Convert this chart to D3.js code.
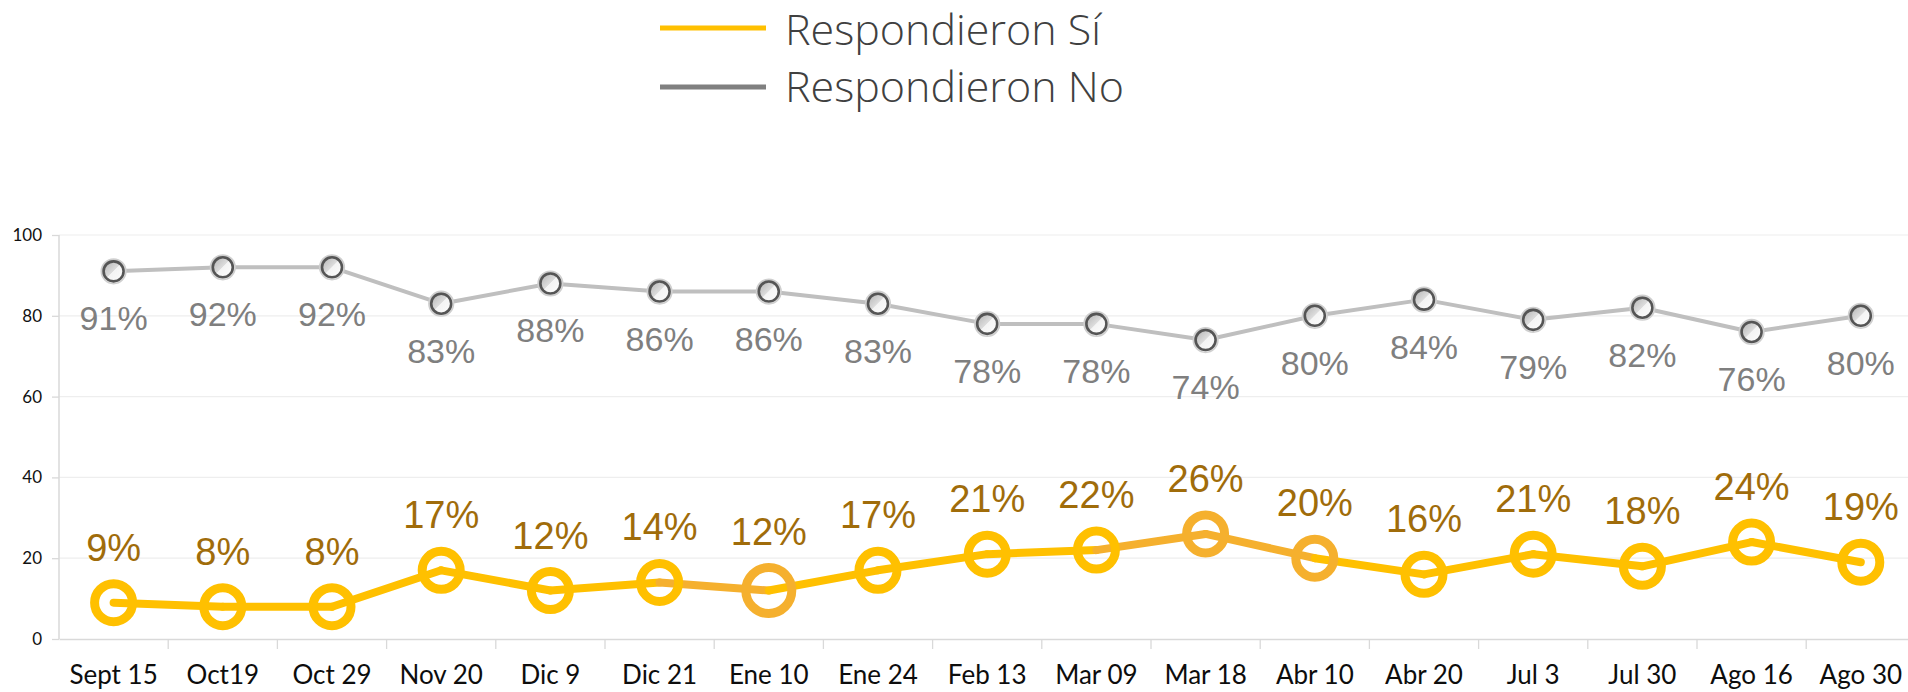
<!DOCTYPE html>
<html><head><meta charset="utf-8">
<script src="https://cdn.jsdelivr.net/npm/d3@7"></script>
<style>html,body{margin:0;padding:0;background:#fff;overflow:hidden}svg{display:block}</style>
</head><body>
<svg id="c" width="1908" height="692"></svg>
<script>
const categories = ["Sept 15","Oct19","Oct 29","Nov 20","Dic 9","Dic 21","Ene 10","Ene 24","Feb 13","Mar 09","Mar 18","Abr 10","Abr 20","Jul 3","Jul 30","Ago 16","Ago 30"];
const siValues = [9,8,8,17,12,14,12,17,21,22,26,20,16,21,18,24,19];
const noValues = [91,92,92,83,88,86,86,83,78,78,74,80,84,79,82,76,80];
const siHighlighted = ["Ene 10","Mar 18","Abr 10"];
const siLarge = ["Ene 10"];
const yTicks = [0,20,40,60,80,100];
const seriesNames = ["Respondieron Sí","Respondieron No"];

const svg = d3.select("#c");
const x = d3.scaleBand().domain(categories).range([59, 59 + 17*109.2]).padding(0);
const cx = c => x(c) + x.bandwidth()/2;
const y = d3.scaleLinear().domain([0,100]).range([639,235]);

const YEL = "#FFC000", ORA = "#F5B02E", GOLD = "#A06C0A", GRY = "#BFBFBF", GLAB = "#7F7F7F";

const defs = svg.append("defs");
const g1 = defs.append("linearGradient").attr("id","mg").attr("x1","0").attr("y1","0").attr("x2","1").attr("y2","1");
g1.append("stop").attr("offset","0").attr("stop-color","#a8a8a8");
g1.append("stop").attr("offset","0.48").attr("stop-color","#dcdcdc");
g1.append("stop").attr("offset","0.5").attr("stop-color","#f4f4f4");
g1.append("stop").attr("offset","1").attr("stop-color","#ffffff");

// gridlines
svg.append("g").selectAll("line").data(yTicks.filter(t=>t>0)).join("line")
  .attr("x1",59).attr("x2",1908).attr("y1",d=>y(d)).attr("y2",d=>y(d))
  .attr("stroke","#EEEEEE").attr("stroke-width",1.2);

// y axis
const ya = svg.append("g").attr("transform","translate(59,0)")
  .call(d3.axisLeft(y).tickValues(yTicks).tickSize(7).tickPadding(10));
ya.select(".domain").attr("stroke","#D9D9D9").attr("stroke-width",1.5).attr("d","M0,"+y(100)+"V"+y(0));
ya.selectAll(".tick line").attr("stroke","#D9D9D9").attr("stroke-width",1.3);
ya.selectAll(".tick text").attr("font-family","Lato, sans-serif").attr("font-size",17).attr("fill","#111");

// x axis
const xa = svg.append("g").attr("transform","translate(0,"+y(0)+")")
  .call(d3.axisBottom(x).tickSize(0).tickPadding(27));
xa.select(".domain").attr("stroke","#D9D9D9").attr("stroke-width",1.5);
xa.selectAll(".tick text").attr("font-family","Lato, sans-serif").attr("font-size",26).attr("fill","#0d0d0d");
xa.append("g").selectAll("line").data(categories.slice(1)).join("line")
  .attr("x1",d=>x(d)).attr("x2",d=>x(d)).attr("y1",0).attr("y2",10)
  .attr("stroke","#D9D9D9").attr("stroke-width",1.3);

// gray series
const noLine = d3.line().x((d,i)=>cx(categories[i])).y(d=>y(d));
svg.append("path").attr("d",noLine(noValues)).attr("fill","none").attr("stroke",GRY).attr("stroke-width",4).attr("stroke-linejoin","round");
const gm = svg.append("g").selectAll("g").data(noValues).join("g")
  .attr("transform",(d,i)=>`translate(${cx(categories[i])},${y(d)})`);
gm.append("circle").attr("r",12.3).attr("fill","url(#mg)").attr("stroke","#cfcfcf").attr("stroke-width",1.6);
gm.append("circle").attr("r",10).attr("fill","none").attr("stroke","#555").attr("stroke-width",2.6);
svg.append("g").selectAll("text").data(noValues).join("text")
  .attr("x",(d,i)=>cx(categories[i])).attr("y",d=>y(d)+59)
  .attr("text-anchor","middle").attr("font-family","'Liberation Sans', Arial, sans-serif").attr("font-size",34)
  .attr("fill",GLAB).text(d=>d+"%");

// yellow series: segments coloured by end point
const colOf = i => siHighlighted.includes(categories[i]) ? ORA : YEL;
svg.append("g").selectAll("line").data(siValues.slice(1)).join("line")
  .attr("x1",(d,i)=>cx(categories[i])).attr("y1",(d,i)=>y(siValues[i]))
  .attr("x2",(d,i)=>cx(categories[i+1])).attr("y2",d=>y(d))
  .attr("stroke",(d,i)=>colOf(i+1)).attr("stroke-width",8).attr("stroke-linecap","round");
svg.append("g").selectAll("circle").data(siValues).join("circle")
  .attr("cx",(d,i)=>cx(categories[i])).attr("cy",d=>y(d))
  .attr("r",(d,i)=>siLarge.includes(categories[i]) ? 23 : 19)
  .attr("fill","none").attr("stroke",(d,i)=>colOf(i)).attr("stroke-width",9);
svg.append("g").selectAll("text").data(siValues).join("text")
  .attr("x",(d,i)=>cx(categories[i])).attr("y",(d,i)=>y(d) - (siLarge.includes(categories[i]) ? 46 : 42))
  .attr("text-anchor","middle").attr("font-family","'Liberation Sans', Arial, sans-serif").attr("font-size",38)
  .attr("fill",GOLD).text(d=>d+"%");

// legend
const leg = svg.append("g");
[[YEL,28,45],["#808080",87,102]].forEach((s,k)=>{
  leg.append("line").attr("x1",660).attr("x2",766).attr("y1",s[1]).attr("y2",s[1]).attr("stroke",s[0]).attr("stroke-width",5);
  leg.append("text").attr("x",785).attr("y",s[2]).attr("font-family","'Open Sans', sans-serif").attr("font-weight",300)
    .attr("font-size",43).attr("fill","#404040").text(seriesNames[k]);
});
</script>
</body></html>
